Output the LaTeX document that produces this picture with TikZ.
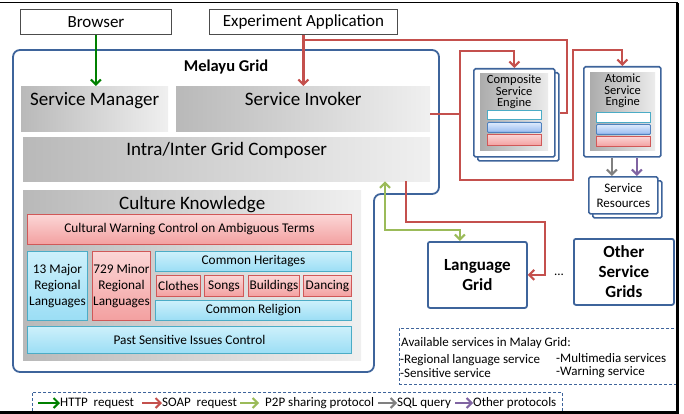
\documentclass[tikz,border=0pt]{standalone}
\usepackage{fontspec}
\setmainfont{Carlito}
\usetikzlibrary{positioning,arrows.meta,shadows}

\definecolor{gridblue}{RGB}{62,100,155}
\definecolor{soapred}{RGB}{196,80,77}
\definecolor{httpgreen}{RGB}{0,128,0}
\definecolor{p2pgreen}{RGB}{155,187,89}
\definecolor{sqlgray}{RGB}{128,128,128}
\definecolor{otherpurple}{RGB}{128,100,162}
\definecolor{cellcyan}{RGB}{75,172,198}
\definecolor{cyantop}{RGB}{205,240,251}
\definecolor{cyanbot}{RGB}{155,222,245}
\definecolor{cellred}{RGB}{208,88,88}
\definecolor{pinktop}{RGB}{251,214,214}
\definecolor{pinkbot}{RGB}{243,160,160}
\definecolor{barblue}{RGB}{79,129,189}
\definecolor{bluetop}{RGB}{222,234,252}
\definecolor{bluebot}{RGB}{150,186,240}

\newcommand{\fsz}[2]{\fontsize{#1}{#2}\selectfont}

\tikzset{
  extbox/.style={draw=black!70, fill=white, line width=0.9pt, inner sep=0pt, anchor=north west, font=\fsz{17}{20}},
  panel/.style={inner sep=0pt, anchor=north west, left color=gray!55, right color=gray!12},
  paneltext/.style={inner sep=0pt, font=\fsz{19}{22}},
  redcell/.style={draw=cellred, line width=0.9pt, top color=pinktop, bottom color=pinkbot, inner sep=0pt, anchor=north west, font=\fsz{13.3}{16}, align=center},
  cyancell/.style={draw=cellcyan, line width=0.9pt, top color=cyantop, bottom color=cyanbot, inner sep=0pt, anchor=north west, font=\fsz{13.3}{16}, align=center},
  gridbox/.style={draw=gridblue, line width=1.8pt, fill=white, rounded corners=2pt, inner sep=0pt, anchor=north west, font=\bfseries\fsz{17}{20}, align=center},
  engine/.style={draw=gridblue, line width=1.7pt, fill=white, rounded corners=1.5pt, inner sep=0pt, anchor=north west},
  stacked/.style={copy shadow={shadow xshift=4pt, shadow yshift=-4pt, draw=gridblue, line width=1.7pt, fill=white}},
  enginepanel/.style={inner sep=0pt, anchor=north west, left color=gray!65, right color=gray!15},
  enginetext/.style={inner sep=0pt, font=\fsz{12.5}{11.5}, align=center},
  whitebar/.style={draw=cellcyan, fill=white, line width=0.9pt, inner sep=0pt, anchor=north west, minimum width=54pt},
  bluebar/.style={draw=barblue, top color=bluetop, bottom color=bluebot, line width=0.9pt, rounded corners=1pt, inner sep=0pt, anchor=north west, minimum width=54pt},
  redbar/.style={draw=cellred, top color=pinktop, bottom color=pinkbot, line width=0.9pt, inner sep=0pt, anchor=north west, minimum width=54pt},
  notebox/.style={draw=gridblue, densely dashed, line width=0.7pt, inner sep=0pt, anchor=north west},
  notetext/.style={inner sep=0pt, anchor=west, font=\fsz{13}{15}},
  wire/.style={line width=2.1pt},
  tip/.style={-{Straight Barb[length=5pt,width=10pt]}},
  tipboth/.style={{Straight Barb[length=5pt,width=10pt]}-{Straight Barb[length=5pt,width=10pt]}},
  http/.style={wire, draw=httpgreen},
  soap/.style={wire, draw=soapred},
  p2p/.style={wire, draw=p2pgreen},
  sql/.style={wire, draw=sqlgray},
  other/.style={wire, draw=otherpurple}
}

\begin{document}
\begin{tikzpicture}[x=1pt,y=-1pt]
\useasboundingbox (0,0) rectangle (684,414);

% Melayu Grid outline
\draw[gridblue, line width=1.8pt, rounded corners=7pt]
  (13,50) -- (439,50) -- (439,194) -- (374,194) -- (374,372) -- (13,372) -- cycle;
\node[font=\bfseries\fsz{16.5}{18}, inner sep=0pt, anchor=north] (mgtitle) at (226,60) {Melayu Grid};

% clients
\node[extbox, minimum width=151pt, minimum height=25pt] (browser) at (20,9) {Browser};
\node[extbox, minimum width=188pt, minimum height=25pt] (exp) at (209,9) {Experiment Application};

% grid layers
\node[panel, minimum width=147pt, minimum height=45pt] (mgr) at (21,86) {};
\node[paneltext, below=6pt of mgr.north] (mgrtxt) {Service Manager};
\node[panel, minimum width=254pt, minimum height=45pt] (inv) at (176,86) {};
\node[paneltext, below=6pt of inv.north] (invtxt) {Service Invoker};
\node[panel, minimum width=407pt, minimum height=44pt] (comp) at (23,137) {};
\node[paneltext, below=5pt of comp.north] (comptxt) {Intra/Inter Grid Composer};
\node[panel, minimum width=338pt, minimum height=170pt] (ck) at (23,190) {};
\node[paneltext, below=6pt of ck.north] (cktxt) {Culture Knowledge};

% culture knowledge cells
\node[redcell, minimum width=324pt, minimum height=30pt] (cwc) at (27,214) {Cultural Warning Control on Ambiguous Terms};
\node[cyancell, minimum width=60pt, minimum height=69pt] (maj) at (27,251) {13 Major\\Regional\\Languages};
\node[redcell, minimum width=58pt, minimum height=69pt] (mnr) at (92,251) {729 Minor\\Regional\\Languages};
\node[cyancell, minimum width=196pt, minimum height=20pt] (her) at (155,251) {Common Heritages};
\node[redcell, minimum width=44pt, minimum height=21pt] (clo) at (156,275) {Clothes};
\node[redcell, minimum width=39pt, minimum height=21pt] (son) at (204,275) {Songs};
\node[redcell, minimum width=51pt, minimum height=21pt] (bld) at (248,275) {Buildings};
\node[redcell, minimum width=48pt, minimum height=21pt] (dan) at (303,275) {Dancing};
\node[cyancell, minimum width=196pt, minimum height=20pt] (rel) at (155,300) {Common Religion};
\node[cyancell, minimum width=324pt, minimum height=27pt] (psi) at (27,326) {Past Sensitive Issues Control};

% service engines
\node[engine, stacked, minimum width=81pt, minimum height=88pt] (cse) at (473,68) {};
\node[enginepanel, minimum width=68pt, minimum height=77pt] (csep) at (480,73) {};
\node[enginetext, below=2pt of csep.north] (csetxt) {Composite\\Service\\Engine};
\node[whitebar, minimum height=9pt] (cseb1) at (487,110) {};
\node[bluebar, minimum height=10pt] (cseb2) at (487,122) {};
\node[redbar, minimum height=11pt] (cseb3) at (487,134) {};

\node[engine, minimum width=77pt, minimum height=90pt] (ase) at (583,66) {};
\node[enginepanel, minimum width=65pt, minimum height=78pt] (asep) at (590,72) {};
\node[enginetext, below=2pt of asep.north] (asetxt) {Atomic\\Service\\Engine};
\node[whitebar, minimum height=10pt] (aseb1) at (596,112) {};
\node[bluebar, minimum height=10pt] (aseb2) at (596,124) {};
\node[redbar, minimum height=10pt] (aseb3) at (596,136) {};

\node[engine, stacked, minimum width=69pt, minimum height=37pt, font=\fsz{13}{15}, align=center] (sr) at (588,176) {Service\\Resources};

% other grids
\node[gridbox, minimum width=99pt, minimum height=66pt] (lg) at (427,241) {Language\\Grid};
\node[gridbox, minimum width=100pt, minimum height=66pt] (osg) at (573,238) {Other\\Service\\Grids};
\node[font=\fsz{13}{15}, inner sep=0pt] (dots) at (559,275) {...};

% available services
\node[notebox, minimum width=277pt, minimum height=56pt] (avail) at (399,328) {};
\node[notetext] (av0) at (401,343) {Available services in Malay Grid:};
\node[notetext] (av1) at (400,360) {-Regional language service};
\node[notetext] (av2) at (400,373) {-Sensitive service};
\node[notetext] (av3) at (556,358) {-Multimedia services};
\node[notetext] (av4) at (556,372) {-Warning service};

% connectors
\draw[http, tip] (browser.south) -- (browser.south |- mgr.north);
\draw[soap, tip] (exp.south) -- (exp.south |- inv.north);
\coordinate (expj) at ([yshift=-5pt]exp.south);
\draw[soap] (expj) -| ([xshift=11pt]cse.east) -- ([xshift=4pt]cse.east);
\coordinate (sij) at ([xshift=30pt,yshift=-5.5pt]inv.east);
\draw[soap] ([yshift=-5.5pt]inv.east) -- (sij);
\draw[soap, tip] (sij) |- ([yshift=17pt]cse.north) -- (cse.north);
\draw[soap, tip] (sij) -- ++(0,66) -| ++(113,-130) -| (ase.north);
\draw[soap, tip] ([xshift=383pt]comp.south west) -- ++(0,41) -| ([xshift=17pt]lg.east) -- (lg.east);
\draw[p2p, tipboth] ([xshift=362pt]comp.south west) -- ++(0,49) -| ([xshift=-17.5pt]lg.north);
\draw[sql, tip] ([xshift=-10.5pt]ase.south) -- ([xshift=-10.5pt]ase.south |- sr.north);
\draw[other, tip] ([xshift=14.5pt]ase.south) -- ([xshift=14.5pt]ase.south |- sr.north);

% legend
\node[notebox, minimum width=530pt, minimum height=24pt] (legend) at (32,392) {};
\coordinate (lhttp) at (38,403);
\node[notetext] (thttp) at (60,403) {HTTP\ \ request};
\coordinate (lsoap) at (142,403);
\node[notetext] (tsoap) at (162,403) {SOAP\ \ request};
\coordinate (lp2p) at (240,403);
\node[notetext] (tp2p) at (265,403) {P2P sharing protocol};
\coordinate (lsql) at (378,403);
\node[notetext] (tsql) at (397,403) {SQL query};
\coordinate (lother) at (455,403);
\node[notetext] (tother) at (473,403) {Other protocols};
\draw[http, tip] (lhttp) -- (thttp.west);
\draw[soap, tip] (lsoap) -- (tsoap.west);
\draw[p2p, tip] (lp2p) -- ([xshift=-6pt]tp2p.west);
\draw[sql, tip] (lsql) -- (tsql.west);
\draw[other, tip] (lother) -- (tother.west);

% screenshot frame
\draw[line width=1pt] (0,3) -- (678,3);
\draw[line width=3.5pt] (677.5,3) -- (677.5,414);
\draw[line width=3pt] (0,412.5) -- (679,412.5);
\end{tikzpicture}
\end{document}
